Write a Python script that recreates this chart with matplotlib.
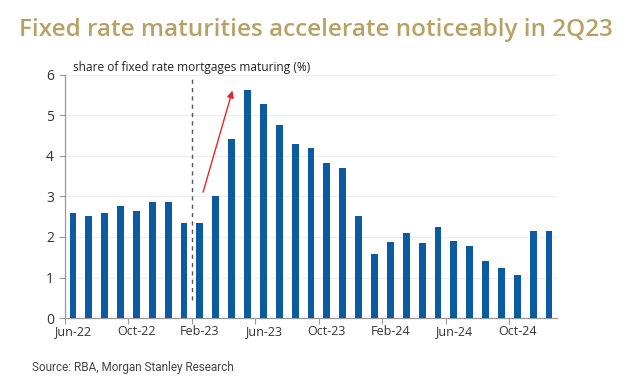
import matplotlib
matplotlib.use("Agg")
import matplotlib.pyplot as plt
import numpy as np

months = ["Jun-22", "Jul-22", "Aug-22", "Sep-22", "Oct-22", "Nov-22", "Dec-22",
          "Jan-23", "Feb-23", "Mar-23", "Apr-23", "May-23", "Jun-23", "Jul-23",
          "Aug-23", "Sep-23", "Oct-23", "Nov-23", "Dec-23",
          "Jan-24", "Feb-24", "Mar-24", "Apr-24", "May-24", "Jun-24", "Jul-24",
          "Aug-24", "Sep-24", "Oct-24", "Nov-24", "Dec-24"]
share = [2.60, 2.52, 2.59, 2.77, 2.64, 2.86, 2.87,
         2.35, 2.35, 3.00, 4.41, 5.63, 5.29, 4.77, 4.29, 4.19, 3.82, 3.71, 2.52,
         1.59, 1.87, 2.10, 1.85, 2.24, 1.91, 1.77, 1.40, 1.24, 1.07, 2.16, 2.16]
label_months = ["Jun-22", "Oct-22", "Feb-23", "Jun-23", "Oct-23", "Feb-24", "Jun-24", "Oct-24"]
yticks = [0, 1, 2, 3, 4, 5, 6]

title = "Fixed rate maturities accelerate noticeably in 2Q23"
ylabel = "share of fixed rate mortgages maturing (%)"
source = "Source: RBA, Morgan Stanley Research"

fig = plt.figure(figsize=(6.31, 3.92), dpi=100)
ax = fig.add_axes([65/631, 1-318/392, (557-65)/631, (318-75)/392])

x = np.arange(len(months))
ax.bar(x, share, width=0.43, color="#0B5AA2", zorder=3)

ax.set_xlim(-0.5, len(months) - 0.5)
ax.set_ylim(0, 6)
ax.set_yticks(yticks)
ax.set_yticklabels([str(v) for v in yticks], family="Open Sans")
ax.yaxis.grid(True, color="#EDEDED", linewidth=0.8, zorder=0)

lab_pos = [months.index(m) for m in label_months]
ax.set_xticks(lab_pos)
ax.set_xticklabels(label_months, family="Open Sans")
ax.set_xticks([p - 0.5 for p in lab_pos], minor=True)
ax.tick_params(axis="x", which="major", length=0, pad=5, labelsize=9, labelcolor="#333333")
ax.tick_params(axis="x", which="minor", length=4, color="#999999", width=0.8)
ax.tick_params(axis="y", length=4, color="#999999", width=0.8, labelsize=10,
               labelcolor="#333333", pad=4)

for s in ["top", "right"]:
    ax.spines[s].set_visible(False)
for s in ["left", "bottom"]:
    ax.spines[s].set_color("#999999")
    ax.spines[s].set_linewidth(0.9)

ax.plot([7.5, 7.5], [0.45, 5.95], linestyle=(0, (3, 3)), color="#555555", linewidth=1.0, zorder=4)
ax.annotate("", xy=(10.1, 5.68), xytext=(8.15, 3.04),
            arrowprops=dict(arrowstyle="-|>", color="#E8262A", lw=1.0,
                            mutation_scale=10), zorder=5)

ax.text(0.016, 6.03, ylabel, transform=ax.get_yaxis_transform(),
        fontsize=8.6, color="#222222", ha="left", va="bottom", family="Open Sans")

fig.text(316/631, 1-30/392, title, ha="center", va="center", fontsize=17.5,
         color="#B8A263", family="Open Sans", fontweight="semibold")
fig.text(32/631, 1-368/392, source, ha="left", va="center", fontsize=8.5,
         color="#444444", family="Roboto")

fig.savefig("out.png", dpi=100, facecolor="white")
